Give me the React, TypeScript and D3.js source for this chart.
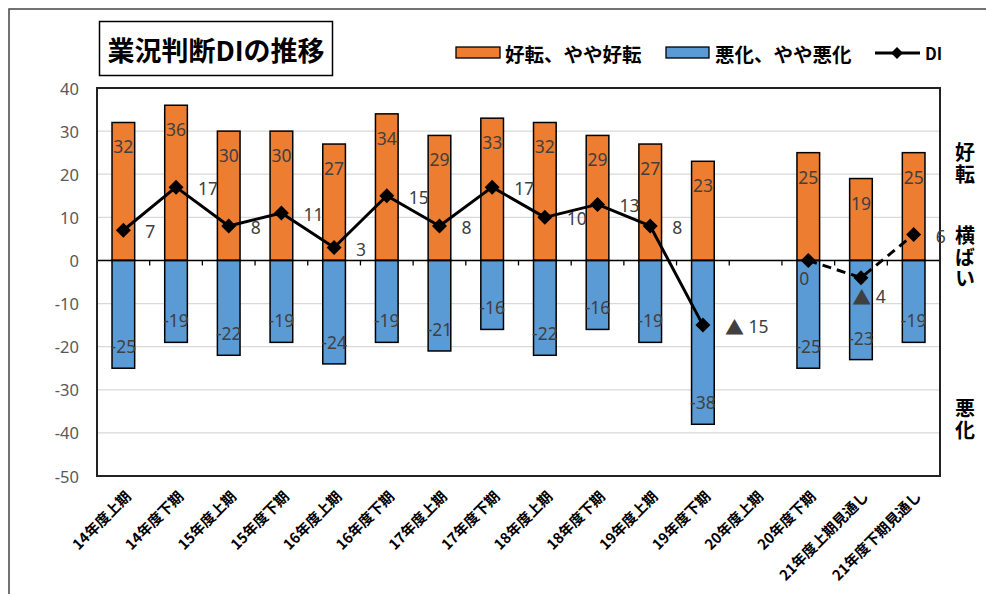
import React from "react";
import * as d3 from "d3";

const categories = [
  "14年度上期", "14年度下期", "15年度上期", "15年度下期", "16年度上期", "16年度下期",
  "17年度上期", "17年度下期", "18年度上期", "18年度下期", "19年度上期", "19年度下期",
  "20年度上期", "20年度下期", "21年度上期見通し", "21年度下期見通し",
];
const goodValues: (number | null)[] = [32, 36, 30, 30, 27, 34, 29, 33, 32, 29, 27, 23, null, 25, 19, 25];
const badValues: (number | null)[] = [-25, -19, -22, -19, -24, -19, -21, -16, -22, -16, -19, -38, null, -25, -23, -19];
const diValues: (number | null)[] = [7, 17, 8, 11, 3, 15, 8, 17, 10, 13, 8, -15, null, 0, -4, 6];
const diLabelPos: string[] = ["r", "r", "r", "r", "r", "r", "r", "r", "r", "r", "r", "r", "r", "b", "b", "r"];
const solidEnd = 11; // last index of solid (actual) line
const dashStart = 13; // first index of dashed (forecast) line
const yTicks = [40, 30, 20, 10, 0, -10, -20, -30, -40, -50];
const legendItems = ["好転、やや好転", "悪化、やや悪化", "DI"];
const sideLabels = [
  { text: "好転", v: 22.3 },
  { text: "横ばい", v: 0.6 },
  { text: "悪化", v: -37 },
];

const W = 986, H = 594;
const plot = { left: 97, top: 88, right: 940, bottom: 476 };
const ORANGE = "#ED7D31", BLUE = "#5B9BD5";
const JP = "'Noto Sans CJK JP', sans-serif";
const NUM = "'Noto Sans', 'Open Sans', sans-serif";

export default function App() {
  const x = d3.scaleBand<string>().domain(categories).range([plot.left, plot.right]).paddingInner(0).paddingOuter(0);
  const y = d3.scaleLinear().domain([-50, 40]).range([plot.bottom, plot.top]);
  const bw = x.bandwidth() * 0.43;
  const cx = (i: number) => (x(categories[i]) as number) + x.bandwidth() / 2;

  const line = d3.line<[number, number]>().x((d) => d[0]).y((d) => d[1]);
  const solidPts: [number, number][] = [];
  const dashPts: [number, number][] = [];
  diValues.forEach((v, i) => {
    if (v == null) return;
    if (i <= solidEnd) solidPts.push([cx(i), y(v)]);
    if (i >= dashStart) dashPts.push([cx(i), y(v)]);
  });

  const diamond = (px: number, py: number, r = 7.5) =>
    `M${px},${py - r}L${px + r},${py}L${px},${py + r}L${px - r},${py}Z`;

  return (
    <div style={{ position: "absolute", left: 0, top: 0 }}>
      <svg width={W} height={H} style={{ display: "block", background: "#fff" }}>
        {/* outer frame */}
        <rect x={9} y={9} width={W + 20} height={H + 20} fill="#fff" stroke="#444" strokeWidth={1.5} />
        {/* title */}
        <rect x={99.5} y={21.5} width={233} height={54} fill="#fff" stroke="#000" strokeWidth={1.5} />
        <text x={216} y={49} textAnchor="middle" dominantBaseline="central" fontFamily={JP} fontWeight={700} fontSize={27} fill="#000">
          業況判断DIの推移
        </text>
        {/* legend */}
        <rect x={456} y={47} width={44} height={11} fill={ORANGE} stroke="#000" strokeWidth={1.3} />
        <text x={505} y={53} dominantBaseline="central" fontFamily={JP} fontWeight={700} fontSize={19.5}>{legendItems[0]}</text>
        <rect x={666} y={47} width={43} height={11} fill={BLUE} stroke="#000" strokeWidth={1.3} />
        <text x={715} y={53} dominantBaseline="central" fontFamily={JP} fontWeight={700} fontSize={19.5}>{legendItems[1]}</text>
        <line x1={875} x2={920} y1={53} y2={53} stroke="#000" strokeWidth={3} />
        <path d={diamond(897, 53, 6)} fill="#000" />
        <text x={925} y={53} dominantBaseline="central" fontFamily={JP} fontWeight={700} fontSize={16.5}>{legendItems[2]}</text>

        {/* gridlines */}
        {yTicks.map((t) => (
          <line key={"g" + t} x1={plot.left} x2={plot.right} y1={y(t)} y2={y(t)} stroke="#d9d9d9" strokeWidth={1.3} />
        ))}
        {/* y tick labels */}
        {yTicks.map((t) => (
          <text key={"yt" + t} x={79} y={y(t)} textAnchor="end" dominantBaseline="central" fontFamily={NUM} fontSize={16.5} fill="#595959">
            {t}
          </text>
        ))}

        {/* bars */}
        {goodValues.map((v, i) =>
          v == null ? null : (
            <rect key={"gb" + i} x={cx(i) - bw / 2} y={y(v)} width={bw} height={y(0) - y(v)} fill={ORANGE} stroke="#000" strokeWidth={1.5} />
          )
        )}
        {badValues.map((v, i) =>
          v == null ? null : (
            <rect key={"bb" + i} x={cx(i) - bw / 2} y={y(0)} width={bw} height={y(v) - y(0)} fill={BLUE} stroke="#000" strokeWidth={1.5} />
          )
        )}
        {/* bar labels */}
        {goodValues.map((v, i) =>
          v == null ? null : (
            <text key={"gl" + i} x={cx(i)} y={y(v) + 24} textAnchor="middle" dominantBaseline="central" fontFamily={NUM} fontSize={17.5} fill="#404040">
              {v}
            </text>
          )
        )}
        {badValues.map((v, i) =>
          v == null ? null : (
            <text key={"bl" + i} x={cx(i)} y={y(v) - 22} textAnchor="middle" dominantBaseline="central" fontFamily={NUM} fontSize={17.5} fill="#404040">
              {v}
            </text>
          )
        )}

        {/* zero axis and ticks */}
        <line x1={plot.left} x2={plot.right} y1={y(0)} y2={y(0)} stroke="#000" strokeWidth={1.5} />
        {categories.map((c, i) =>
          i === 0 ? null : (
            <line key={"tk" + i} x1={x(c) as number} x2={x(c) as number} y1={y(0)} y2={y(0) + 5} stroke="#000" strokeWidth={1.3} />
          )
        )}

        {/* plot frame */}
        <rect x={plot.left} y={plot.top} width={plot.right - plot.left} height={plot.bottom - plot.top} fill="none" stroke="#222" strokeWidth={2} />

        {/* DI lines */}
        <path d={line(solidPts) || ""} fill="none" stroke="#000" strokeWidth={3} strokeLinejoin="round" />
        <path d={line(dashPts) || ""} fill="none" stroke="#000" strokeWidth={3} strokeDasharray="9,6" />
        {diValues.map((v, i) => (v == null ? null : <path key={"dm" + i} d={diamond(cx(i), y(v))} fill="#000" />))}
        {diValues.map((v, i) => {
          if (v == null) return null;
          const right = diLabelPos[i] === "r";
          return (
            <text
              key={"dl" + i}
              x={right ? cx(i) + 22 : cx(i) + (v < 0 ? 8 : -4)}
              y={right ? y(v) + 1 : y(v) + 18}
              textAnchor={right ? "start" : "middle"}
              dominantBaseline="central"
              fontFamily={NUM}
              fontSize={17.5}
              fill="#404040"
            >
              {v < 0 ? (
                <>
                  <tspan fontFamily={JP} fontSize={19}>▲</tspan>
                  <tspan>{" " + Math.abs(v)}</tspan>
                </>
              ) : (
                `${v}`
              )}
            </text>
          );
        })}

        {/* x labels */}
        {categories.map((c, i) => (
          <text
            key={"xl" + i}
            transform={`translate(${cx(i) + 4},${plot.bottom + 17}) rotate(-45)`}
            textAnchor="end"
            dominantBaseline="central"
            fontFamily={JP}
            fontWeight={700}
            fontSize={14.5}
            fill="#000"
          >
            {c}
          </text>
        ))}

        {/* side labels (vertical writing) */}
        {sideLabels.map((s, k) => (
          <text
            key={"sl" + k}
            x={965}
            y={y(s.v)}
            textAnchor="middle"
            fontFamily={JP}
            fontWeight={700}
            fontSize={20}
            fill="#000"
            style={{ writingMode: "vertical-rl", letterSpacing: "1.5px" }}
          >
            {s.text}
          </text>
        ))}
      </svg>
    </div>
  );
}
